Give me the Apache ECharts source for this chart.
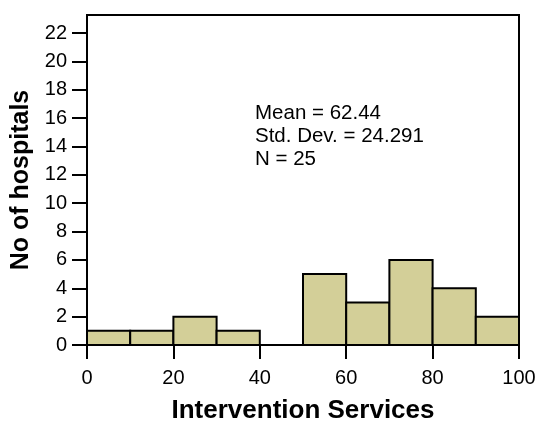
<!DOCTYPE html>
<html>
<head>
<meta charset="utf-8">
<script src="https://cdn.jsdelivr.net/npm/echarts@6/dist/echarts.min.js"></script>
<style>html,body{margin:0;padding:0;background:#fff}#c{width:541px;height:421px}</style>
</head>
<body>
<div id="c"></div>
<script>
const binStarts = [0, 10, 20, 30, 40, 50, 60, 70, 80, 90];
const binEnds = [10, 20, 30, 40, 50, 60, 70, 80, 90, 100];
const counts = [1, 1, 2, 1, 0, 5, 3, 6, 4, 2];
const yTicks = [0, 2, 4, 6, 8, 10, 12, 14, 16, 18, 20, 22];
const xTicks = [0, 20, 40, 60, 80, 100];
const statLines = ['Mean = 62.44', 'Std. Dev. = 24.291', 'N = 25'];

const data = binStarts.map((s, i) => [s, binEnds[i], counts[i]]);
const chart = echarts.init(document.getElementById('c'), null, {renderer: 'canvas'});
const font = '"Liberation Sans", Arial, sans-serif';
chart.setOption({
  animation: false,
  backgroundColor: '#fff',
  grid: {left: 87, right: 22, top: 15, bottom: 76, outerBoundsMode: 'none', containLabel: false,
         show: true, borderColor: '#000', borderWidth: 2, backgroundColor: 'transparent'},
  xAxis: {
    type: 'value', min: 0, max: 100, interval: 20,
    name: 'Intervention Services', nameLocation: 'middle', nameGap: 53,
    nameTextStyle: {fontFamily: font, fontSize: 26, fontWeight: 'bold', color: '#000'},
    axisLine: {show: true, lineStyle: {color: '#000', width: 2}},
    axisTick: {show: true, length: 14, lineStyle: {color: '#000', width: 2}, customValues: xTicks},
    axisLabel: {fontFamily: font, fontSize: 20, color: '#000', margin: 23, customValues: xTicks},
    splitLine: {show: false}
  },
  yAxis: {
    type: 'value', min: 0, max: 23.27,
    name: 'No of hospitals', nameLocation: 'middle', nameGap: 50,
    nameTextStyle: {fontFamily: font, fontSize: 25, fontWeight: 'bold', color: '#000'},
    axisLine: {show: true, lineStyle: {color: '#000', width: 2}},
    axisTick: {show: true, length: 15, lineStyle: {color: '#000', width: 2}, customValues: yTicks},
    axisLabel: {fontFamily: font, fontSize: 20, color: '#000', margin: 20, customValues: yTicks},
    splitLine: {show: false}
  },
  series: [{
    type: 'custom',
    data: data,
    encode: {x: [0, 1], y: 2},
    renderItem: function (params, api) {
      const c = api.value(2);
      if (c <= 0) return null;
      const p0 = api.coord([api.value(0), 0]);
      const p1 = api.coord([api.value(1), c]);
      return {
        type: 'rect',
        shape: {x: p0[0], y: p1[1], width: p1[0] - p0[0], height: p0[1] - p1[1]},
        style: {fill: '#d3cf98', stroke: '#000', lineWidth: 2}
      };
    }
  }],
  graphic: statLines.map((t, i) => ({
    type: 'text', left: 255, top: 103 + i * 23,
    style: {text: t, fontFamily: font, fontSize: 20.5, fill: '#000'}
  }))
});
</script>
</body>
</html>
